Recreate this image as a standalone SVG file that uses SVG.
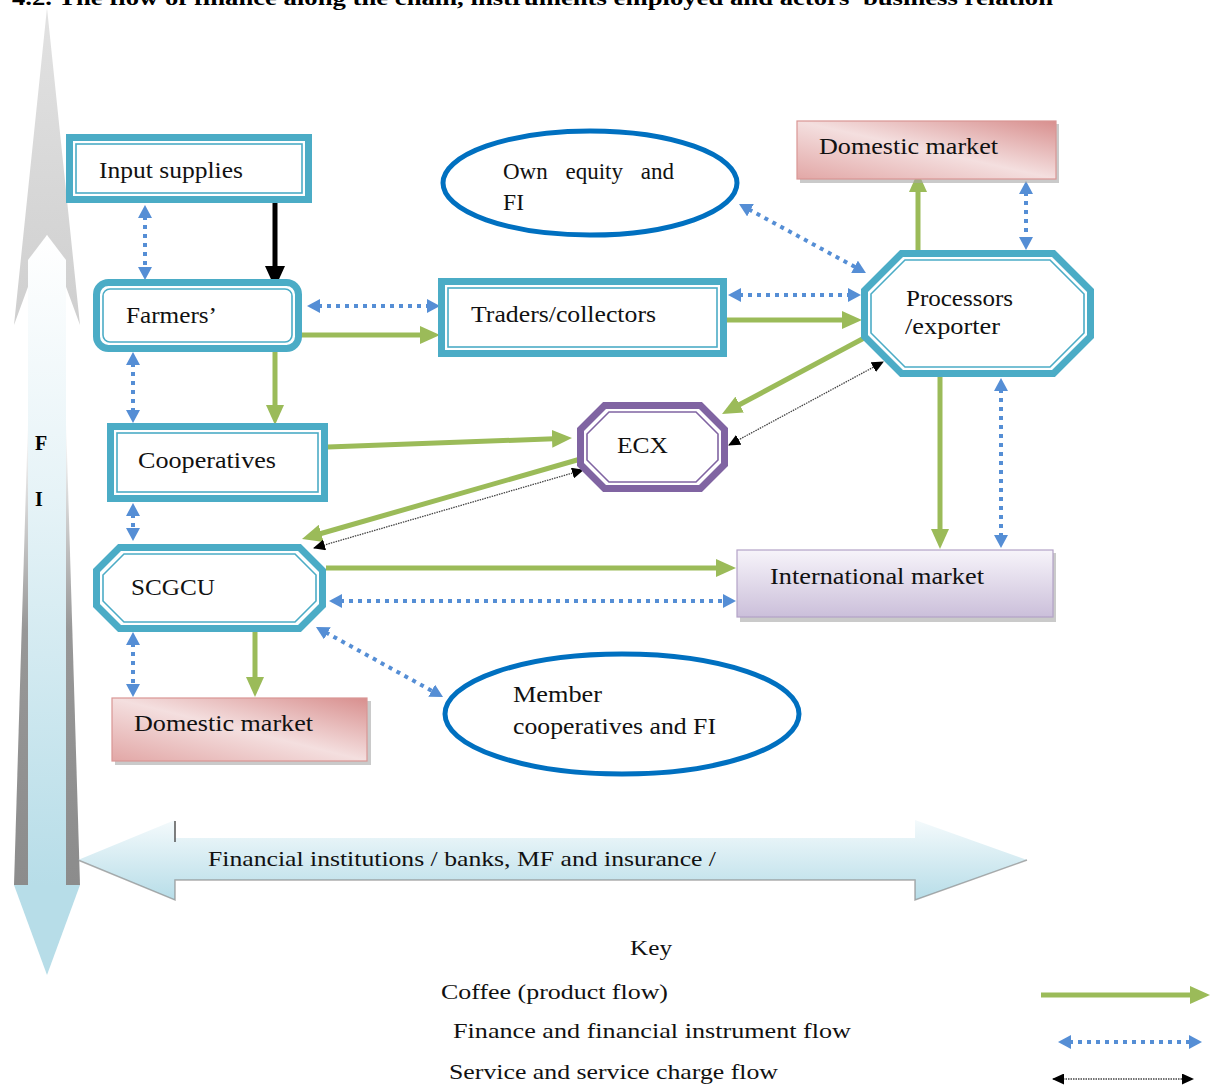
<svg xmlns="http://www.w3.org/2000/svg" width="1210" height="1086" viewBox="0 0 1210 1086">
<style>
.t{font-family:"Liberation Serif","Times New Roman",serif;font-size:23px;fill:#111}
.k{font-family:"Liberation Serif","Times New Roman",serif;font-size:22px;fill:#111}
.thick{fill:#fff;stroke:#4bacc6;stroke-width:7}
.thin{fill:none;stroke:#4bacc6;stroke-width:1.6}
.g{fill:none;stroke:#9bbb59;stroke-width:5;marker-end:url(#gh)}
.b{fill:none;stroke:#558ed5;stroke-width:4;stroke-dasharray:4 5;marker-start:url(#bh);marker-end:url(#bh)}
.s{fill:none;stroke:#444;stroke-width:1.3;stroke-dasharray:1.5 1;marker-start:url(#sh);marker-end:url(#sh)}
.ell{fill:#fff;stroke:#0070c0;stroke-width:5}
</style>
<defs>
<marker id="gh" markerUnits="userSpaceOnUse" markerWidth="20" markerHeight="18" viewBox="0 0 20 18" refX="2" refY="9" orient="auto"><path d="M0,0L20,9L0,18z" fill="#9bbb59"/></marker>
<marker id="bh" markerUnits="userSpaceOnUse" markerWidth="13" markerHeight="14" viewBox="0 0 13 14" refX="2" refY="7" orient="auto-start-reverse"><path d="M0,0L13,7L0,14z" fill="#558ed5"/></marker>
<marker id="sh" markerUnits="userSpaceOnUse" markerWidth="12" markerHeight="11" viewBox="0 0 12 11" refX="11" refY="5.5" orient="auto-start-reverse"><path d="M0,0L12,5.5L0,11z" fill="#000"/></marker>
<marker id="kh" markerUnits="userSpaceOnUse" markerWidth="22" markerHeight="20" viewBox="0 0 22 20" refX="0" refY="10" orient="auto"><path d="M0,0L22,10L0,20z" fill="#000"/></marker>
<linearGradient id="pink" x1="0" y1="1" x2="1" y2="0"><stop offset="0" stop-color="#e2a7a6"/><stop offset="0.5" stop-color="#f4dfdf"/><stop offset="1" stop-color="#d88f8e"/></linearGradient>
<linearGradient id="lav" x1="0" y1="0" x2="0" y2="1"><stop offset="0" stop-color="#f7f4fa"/><stop offset="1" stop-color="#cbbfda"/></linearGradient>
<linearGradient id="greyup" x1="0" y1="0" x2="0" y2="1"><stop offset="0" stop-color="#e2e2e2"/><stop offset="1" stop-color="#cfcfcf"/></linearGradient>
<linearGradient id="shaft" x1="0" y1="0" x2="0" y2="1"><stop offset="0" stop-color="#ffffff"/><stop offset="0.4" stop-color="#e6f3f7"/><stop offset="1" stop-color="#b7dde8"/></linearGradient>
<linearGradient id="side" x1="0" y1="0" x2="0" y2="1"><stop offset="0" stop-color="#8c8c8c" stop-opacity="0"/><stop offset="0.45" stop-color="#8c8c8c" stop-opacity="0.9"/><stop offset="1" stop-color="#8c8c8c"/></linearGradient>
<linearGradient id="hshaft" x1="0" y1="0" x2="0" y2="1"><stop offset="0" stop-color="#f4fafc"/><stop offset="1" stop-color="#b7dde8"/></linearGradient>
</defs>

<text x="12" y="5" font-family="Liberation Serif, serif" font-weight="bold" font-size="22" textLength="1041" lengthAdjust="spacingAndGlyphs" fill="#000">4.2. The flow of finance along the chain, instruments employed and actors’ business relation</text>

<g id="fi-vertical-arrow">
<polygon points="47,8 80,325 47,235 14,325" fill="url(#greyup)"/>
<polygon points="28,260 47,235 66,260 66,886 28,886" fill="url(#shaft)"/>
<polygon points="14,885 28,885 28,420" fill="url(#side)"/>
<polygon points="66,885 80,885 66,420" fill="url(#side)"/>
<polygon points="14,885 80,885 47,975" fill="#b7dde8"/>
<text x="35" y="450" font-family="Liberation Serif, serif" font-weight="bold" font-size="20" fill="#000">F</text>
<text x="35" y="506" font-family="Liberation Serif, serif" font-weight="bold" font-size="20" fill="#000">I</text>
</g>

<g id="fi-horizontal-arrow">
<polygon points="78,860 175,820 175,838 915,838 915,820 1027,860 915,900 915,880 175,880 175,900" fill="url(#hshaft)"/>
<polyline points="78,860 175,900 175,880 915,880 915,900 1027,860" fill="none" stroke="#8c8c8c" stroke-width="1.5" stroke-opacity="0.7"/>
<line x1="175" y1="821" x2="175" y2="842" stroke="#555" stroke-width="1.5"/>
<text class="k" x="208" y="866" textLength="508" lengthAdjust="spacingAndGlyphs">Financial institutions / banks, MF and insurance /</text>
</g>

<g id="connectors">
<line x1="275" y1="203" x2="275" y2="266" stroke="#000" stroke-width="5" marker-end="url(#kh)"/>
<line class="b" x1="145" y1="216" x2="145" y2="269"/>
<line class="b" x1="318" y1="306" x2="429" y2="306"/>
<line class="g" x1="301" y1="335" x2="422" y2="335"/>
<line class="g" x1="275" y1="352" x2="275" y2="407"/>
<line class="b" x1="133" y1="363" x2="133" y2="412"/>
<line class="b" x1="133" y1="514" x2="133" y2="530"/>
<line class="g" x1="328" y1="447" x2="554" y2="438.7"/>
<line class="g" x1="584" y1="458" x2="319.3" y2="534"/>
<line class="s" x1="314" y1="548" x2="583" y2="470"/>
<line class="g" x1="727" y1="320" x2="844" y2="320"/>
<line class="b" x1="739" y1="295" x2="850" y2="295"/>
<line class="b" x1="748.7" y1="209.3" x2="856.3" y2="267.7"/>
<line class="g" x1="918" y1="250" x2="918" y2="190"/>
<line class="b" x1="1026" y1="192" x2="1026" y2="239"/>
<line class="g" x1="866" y1="337" x2="737.9" y2="405.5"/>
<line class="s" x1="729" y1="445" x2="883" y2="362"/>
<line class="g" x1="940" y1="377" x2="940" y2="531"/>
<line class="b" x1="1001" y1="389" x2="1001" y2="537"/>
<line class="g" x1="326" y1="568" x2="718" y2="568"/>
<line class="b" x1="340" y1="601" x2="725" y2="601"/>
<line class="b" x1="325.6" y1="632.3" x2="433.4" y2="691.7"/>
<line class="g" x1="255" y1="632" x2="255" y2="679"/>
<line class="b" x1="133" y1="643" x2="133" y2="686"/>
</g>

<g id="input-supplies">
<rect class="thick" x="69.5" y="137.5" width="239" height="62"/>
<rect class="thin" x="76" y="144" width="226" height="49"/>
<text class="t" x="99" y="178" textLength="144" lengthAdjust="spacingAndGlyphs">Input supplies</text>
</g>

<g id="farmers">
<rect class="thick" x="96.5" y="282.5" width="202" height="66" rx="12"/>
<rect class="thin" x="103" y="289" width="189" height="53" rx="7"/>
<text class="t" x="126" y="323" textLength="91" lengthAdjust="spacingAndGlyphs">Farmers’</text>
</g>

<g id="traders">
<rect class="thick" x="441.5" y="281.5" width="282" height="72"/>
<rect class="thin" x="448" y="288" width="269" height="59"/>
<text class="t" x="471" y="322" textLength="185" lengthAdjust="spacingAndGlyphs">Traders/collectors</text>
</g>

<g id="cooperatives">
<rect class="thick" x="110.5" y="426.5" width="214" height="72"/>
<rect class="thin" x="117" y="433" width="201" height="59"/>
<text class="t" x="138" y="468" textLength="138" lengthAdjust="spacingAndGlyphs">Cooperatives</text>
</g>

<g id="scgcu">
<polygon class="thick" points="119.5,547.5 299.5,547.5 322.5,570.5 322.5,605.5 299.5,628.5 119.5,628.5 96.5,605.5 96.5,570.5"/>
<polygon class="thin" points="124,554 295,554 316,575 316,601 295,622 124,622 103,601 103,575"/>
<text class="t" x="131" y="595" textLength="84" lengthAdjust="spacingAndGlyphs">SCGCU</text>
</g>

<g id="ecx">
<polygon points="604.5,405.5 700.5,405.5 724.5,429.5 724.5,464.5 700.5,488.5 604.5,488.5 580.5,464.5 580.5,429.5" fill="#fff" stroke="#8064a2" stroke-width="7"/>
<polygon points="609,412 696,412 718,434 718,460 696,482 609,482 587,460 587,434" fill="none" stroke="#8064a2" stroke-width="1.6"/>
<text class="t" x="617" y="453" textLength="51" lengthAdjust="spacingAndGlyphs">ECX</text>
</g>

<g id="processors">
<polygon class="thick" points="901.5,253.5 1053.5,253.5 1090.5,290.5 1090.5,336.5 1053.5,373.5 901.5,373.5 864.5,336.5 864.5,290.5"/>
<polygon class="thin" points="905,260 1050,260 1084,294 1084,333 1050,367 905,367 871,333 871,294"/>
<text class="t" x="906" y="306" textLength="107" lengthAdjust="spacingAndGlyphs">Processors</text>
<text class="t" x="905" y="334" textLength="95" lengthAdjust="spacingAndGlyphs">/exporter</text>
</g>

<g id="own-equity">
<ellipse class="ell" cx="590" cy="183" rx="147" ry="52"/>
<text class="t" x="503" y="179" word-spacing="12">Own equity and</text>
<text class="t" x="503" y="210" textLength="21" lengthAdjust="spacingAndGlyphs">FI</text>
</g>

<g id="domestic-market-top">
<rect x="800" y="124" width="259" height="59" fill="#a6a6a6" opacity="0.6"/>
<rect x="797" y="121" width="259" height="58" fill="url(#pink)" stroke="#d99694" stroke-width="1.2"/>
<text class="t" x="819" y="154" textLength="179" lengthAdjust="spacingAndGlyphs">Domestic market</text>
</g>

<g id="domestic-market-bottom">
<rect x="115" y="701" width="256" height="64" fill="#a6a6a6" opacity="0.6"/>
<rect x="112" y="698" width="255" height="63" fill="url(#pink)" stroke="#d99694" stroke-width="1.2"/>
<text class="t" x="134" y="731" textLength="179" lengthAdjust="spacingAndGlyphs">Domestic market</text>
</g>

<g id="international-market">
<rect x="740" y="553" width="316" height="69" fill="#a6a6a6" opacity="0.6"/>
<rect x="737" y="550" width="316" height="67" fill="url(#lav)" stroke="#b3a2c7" stroke-width="1.2"/>
<text class="t" x="770" y="584" textLength="214" lengthAdjust="spacingAndGlyphs">International market</text>
</g>

<g id="member-cooperatives">
<ellipse class="ell" cx="622" cy="714" rx="177" ry="60"/>
<text class="t" x="513" y="702" textLength="89" lengthAdjust="spacingAndGlyphs">Member</text>
<text class="t" x="513" y="734" textLength="203" lengthAdjust="spacingAndGlyphs">cooperatives and FI</text>
</g>

<g id="key">
<text class="k" x="630" y="955" textLength="42" lengthAdjust="spacingAndGlyphs">Key</text>
<text class="k" x="441" y="999" textLength="227" lengthAdjust="spacingAndGlyphs">Coffee (product flow)</text>
<text class="k" x="453" y="1038" textLength="398" lengthAdjust="spacingAndGlyphs">Finance and financial instrument flow</text>
<text class="k" x="449" y="1079" textLength="329" lengthAdjust="spacingAndGlyphs">Service and service charge flow</text>
<line class="g" x1="1041" y1="995" x2="1192" y2="995"/>
<line class="b" x1="1069" y1="1042" x2="1191" y2="1042"/>
<line class="s" x1="1053" y1="1079" x2="1193" y2="1079"/>
</g>
</svg>
